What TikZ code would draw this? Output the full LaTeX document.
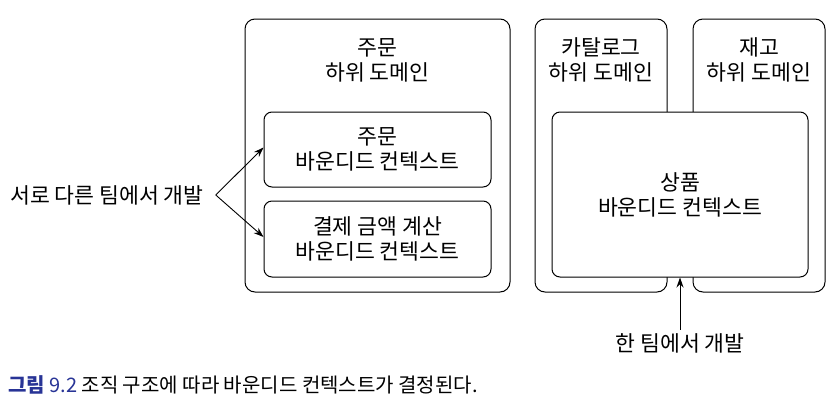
\documentclass[tikz,border=0pt]{standalone}
\usepackage{fontspec}
\setmainfont{Noto Sans CJK KR}
\usetikzlibrary{arrows.meta,positioning}
\definecolor{capblue}{RGB}{40,52,150}

\tikzset{
  sdbox/.style={draw, line width=1pt, rounded corners=10pt, inner sep=0pt},
  bcbox/.style={draw, line width=1pt, rounded corners=8pt, fill=white, align=center, inner sep=0pt},
  lbl/.style={align=center, font=\fontsize{21.6}{25}\selectfont},
  devarrow/.style={-{Stealth[length=10pt,width=7pt]}, line width=0.9pt}
}

\begin{document}
\begin{tikzpicture}[x=1pt,y=-1pt]
	    \useasboundingbox (0,0) rectangle (840,402);

	    % subdomains
	    \node[sdbox, minimum width=265pt, minimum height=273pt] (ordersd) at (377.5,155.5) {};
	    \node[sdbox, minimum width=132pt, minimum height=273pt] (catsd) at (601,155.5) {};
	    \node[sdbox, minimum width=132pt, minimum height=273pt] (invsd) at (759,155.5) {};
	    \node[lbl] (ordersdtxt) at (377.5,60) {주문\\하위 도메인};
	    \node[lbl] (catsdtxt) at (601,60) {카탈로그\\하위 도메인};
	    \node[lbl] (invsdtxt) at (759,60) {재고\\하위 도메인};

	    % bounded contexts
	    \node[bcbox, lbl, minimum width=227pt, minimum height=75pt] (orderbc) at (377.5,149.5) {주문\\바운디드 컨텍스트};
	    \node[bcbox, lbl, minimum width=227pt, minimum height=76pt] (paybc) at (377.5,239) {결제 금액 계산\\바운디드 컨텍스트};
	    \node[bcbox, lbl, minimum width=256pt, minimum height=165pt] (prodbc) at (680,194.5) {상품\\바운디드 컨텍스트};

	    % teams
	    \node[lbl, anchor=west, inner sep=0pt] (difteam) at (10,195) {서로 다른 팀에서 개발};
	    \node[lbl] (oneteam) at (680,343) {한 팀에서 개발};

	    \draw[devarrow] ([xshift=12pt]difteam.east) -- ([yshift=2pt]orderbc.west);
	    \draw[devarrow] ([xshift=12pt]difteam.east) -- ([yshift=2pt]paybc.west);
	    \draw[devarrow] (oneteam.north) -- (prodbc.south);

	    % caption
	    \node[anchor=west, inner sep=0pt, font=\fontsize{20}{22}\selectfont] (caption) at (8,385)
	      {\textcolor{capblue}{\textbf{그림} 9.2} 조직 구조에 따라 바운디드 컨텍스트가 결정된다.};

	\end{tikzpicture}
\end{document}
